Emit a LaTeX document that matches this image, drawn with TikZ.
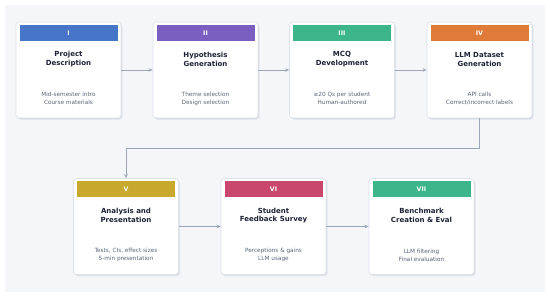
\documentclass[tikz,border=0pt]{standalone}
\usepackage{fontspec}
\setmainfont{DejaVu Sans}
\usetikzlibrary{shadows,arrows.meta}
\definecolor{bggray}{HTML}{F4F6F9}
\definecolor{boxline}{HTML}{DDE2E9}
\definecolor{shadc}{HTML}{C8CFDA}
\definecolor{titlec}{HTML}{1E2235}
\definecolor{subc}{HTML}{5A6478}
\definecolor{arrc}{HTML}{9AA6BA}
\definecolor{cI}{HTML}{4775C7}
\definecolor{cII}{HTML}{7A5FC0}
\definecolor{cIII}{HTML}{3DB58A}
\definecolor{cIV}{HTML}{E07A39}
\definecolor{cV}{HTML}{C9A82E}
\definecolor{cVI}{HTML}{C9476C}
\definecolor{cVII}{HTML}{3DB58A}
\tikzset{
  stagebox/.style={draw=boxline, line width=0.7pt, fill=white, rounded corners=3pt,
    minimum width=105pt, minimum height=96pt, inner sep=0pt,
    general shadow={fill=shadc, opacity=0.35, shadow xshift=1.6pt, shadow yshift=-1.8pt},
    general shadow={fill=shadc, opacity=0.5, shadow xshift=0.8pt, shadow yshift=-0.9pt}},
  header/.style={fill=#1, draw=none, minimum width=98pt, minimum height=16pt, inner sep=0pt,
    text=white, font=\fontsize{6.3}{7}\selectfont\bfseries},
  titletext/.style={align=center, text=titlec, font=\fontsize{7.0}{8.8}\selectfont\bfseries, inner sep=0pt},
  subtext/.style={align=center, text=subc, font=\fontsize{5.75}{8.3}\selectfont, inner sep=0pt},
  flow/.style={draw=arrc, line width=0.8pt, -{Stealth[length=4pt,width=3.5pt]}}
}
\newcommand{\stage}[7]{%
  \node[stagebox] (#1) at (#2,#3) {};
  \node[header=#4, anchor=north] (#1h) at ([yshift=-3pt]#1.north) {#5};
  \node[titletext] (#1t) at ([yshift=-37.5pt]#1.north) {#6};
  \node[subtext] (#1s) at ([yshift=-77pt]#1.north) {#7};
}
\begin{document}
\begin{tikzpicture}[x=1pt,y=-1pt]
\useasboundingbox (0,0) rectangle (550,299);
\fill[bggray] (5,5) rectangle (545,292);
\stage{s1}{68.5}{70}{cI}{I}{Project\\Description}{Mid-semester intro\\Course materials}
\stage{s2}{205.5}{70}{cII}{II}{Hypothesis\\Generation}{Theme selection\\Design selection}
\stage{s3}{342}{70}{cIII}{III}{MCQ\\Development}{≥20 Qs per student\\Human-authored}
\stage{s4}{479.5}{70}{cIV}{IV}{LLM Dataset\\Generation}{API calls\\Correct/incorrect labels}
\stage{s5}{126}{226.5}{cV}{V}{Analysis and\\Presentation}{Tests, CIs, effect sizes\\5-min presentation}
\stage{s6}{273.5}{226.5}{cVI}{VI}{Student\\Feedback Survey}{Perceptions \& gains\\LLM usage}
\stage{s7}{421.5}{226.5}{cVII}{VII}{Benchmark\\Creation \& Eval}{LLM filtering\\Final evaluation}
\draw[flow] (s1.east) -- (s2.west);
\draw[flow] (s2.east) -- (s3.west);
\draw[flow] (s3.east) -- (s4.west);
\coordinate (bend) at (479.5,148);
\draw[flow] (s4.south) -- (bend) -| (s5.north);
\draw[flow] (s5.east) -- (s6.west);
\draw[flow] (s6.east) -- (s7.west);
\end{tikzpicture}
\end{document}
